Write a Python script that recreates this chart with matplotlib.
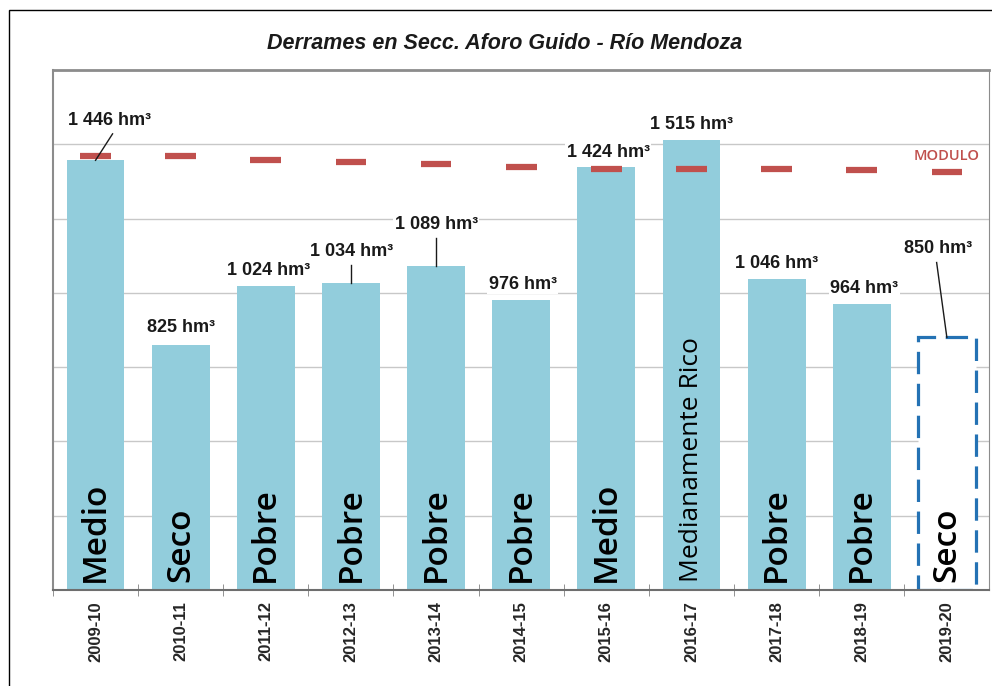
import matplotlib.pyplot as plt
from matplotlib.patches import Rectangle
from matplotlib.ticker import FixedLocator

# data
temporadas = ['2009-10', '2010-11', '2011-12', '2012-13', '2013-14', '2014-15',
              '2015-16', '2016-17', '2017-18', '2018-19', '2019-20']
derrames = [1446, 825, 1024, 1034, 1089, 976, 1424, 1515, 1046, 964, 850]
modulo = [1459, 1459, 1447, 1439, 1432, 1425, 1417, 1417, 1418, 1412, 1405]
clase = ['Medio', 'Seco', 'Pobre', 'Pobre', 'Pobre', 'Pobre', 'Medio',
         'Medianamente Rico', 'Pobre', 'Pobre', 'Seco']
etiquetas = ['1 446 hm³', '825 hm³', '1 024 hm³', '1 034 hm³', '1 089 hm³', '976 hm³',
             '1 424 hm³', '1 515 hm³', '1 046 hm³', '964 hm³', '850 hm³']

bar_color = '#92CDDC'
mod_color = '#C0504D'

fig = plt.figure(figsize=(9.92, 6.86), dpi=100)
ax = fig.add_axes([0.0534, 0.140, 0.944, 0.758])

x = list(range(len(temporadas)))
n = len(x)
ax.bar(x[:-1], derrames[:-1], width=0.68, color=bar_color, zorder=2)
ax.bar(x[-1], derrames[-1], width=0.68, facecolor='white', edgecolor='#2472B4',
       linewidth=2.3, linestyle=(0, (7, 3)), zorder=2)

ax.hlines(modulo, [i - 0.18 for i in x], [i + 0.18 for i in x], color=mod_color,
          linewidth=4.5, zorder=3)

ax.set_xlim(-0.5, n - 0.5)
ax.set_ylim(0, 1750)
ax.set_yticks(range(0, 1751, 250))
ax.yaxis.grid(True, color='#C8C8C8', linewidth=1, zorder=0)
ax.set_axisbelow(True)
ax.tick_params(axis='y', length=0, labelleft=False)

ax.set_xticks(x)
ax.set_xticklabels(temporadas, rotation=90, fontsize=12, fontweight='bold',
                   color='#262626', family='Liberation Sans')
ax.tick_params(axis='x', which='major', length=0, pad=8)
ax.xaxis.set_minor_locator(FixedLocator([i + 0.5 for i in x[:-1]] + [-0.5]))
ax.tick_params(axis='x', which='minor', direction='inout', length=9, color='#808080')

for side in ['left', 'right', 'top']:
    ax.spines[side].set_color('#8C8C8C')
ax.spines['top'].set_linewidth(2)
ax.spines['left'].set_linewidth(1.5)
ax.spines['bottom'].set_color('#6E6E6E')
ax.spines['bottom'].set_linewidth(1.5)

# category text inside bars
for i in x:
    big = clase[i] != 'Medianamente Rico'
    ax.text(i, 27, clase[i], rotation=90, ha='center', va='bottom',
            fontsize=24 if big else 19, family='Open Sans',
            fontweight='semibold' if big else 'normal', color='black', zorder=4)

# value labels: (x, y) of text, optional leader line
lab_pos = [(0.16, 1579), (1, 883), (2.03, 1075), (3.01, 1139), (4.0, 1229), (5.02, 1028),
           (6.02, 1471), (7, 1565), (8, 1098), (9.03, 1014), (9.9, 1149)]
leaders = {0: ((0.2, 1535), (0, 1446)),
           3: ((3, 1095), (3, 1034)),
           4: ((4, 1186), (4, 1089)),
           10: ((9.88, 1102), (10.0, 850))}
for i, (tx, ty) in enumerate(lab_pos):
    ax.text(tx, ty, etiquetas[i], ha='center', va='center', fontsize=13,
            fontweight='bold', family='Liberation Sans', color='#1A1A1A', zorder=5,
            bbox=dict(facecolor='white', edgecolor='none', pad=1.0))
for i, (p0, p1) in leaders.items():
    ax.plot([p0[0], p1[0]], [p0[1], p1[1]], color='#1A1A1A', linewidth=1, zorder=5)

ax.text(10.0, 1461, 'MODULO', ha='center', va='center', fontsize=10.5,
        color=mod_color, family='Open Sans', fontweight='semibold', zorder=5,
        bbox=dict(facecolor='white', edgecolor='none', pad=2))

fig.text(0.509, 0.936, 'Derrames en Secc. Aforo Guido - Río Mendoza', ha='center',
         va='center', fontsize=15.5, fontweight='bold', style='italic',
         family='Liberation Sans', color='#1A1A1A')

fig.patches.append(Rectangle((0.009, -0.02), 1.2, 1.005, transform=fig.transFigure,
                             fill=False, edgecolor='black', linewidth=1))

fig.savefig('out.png', dpi=100)
